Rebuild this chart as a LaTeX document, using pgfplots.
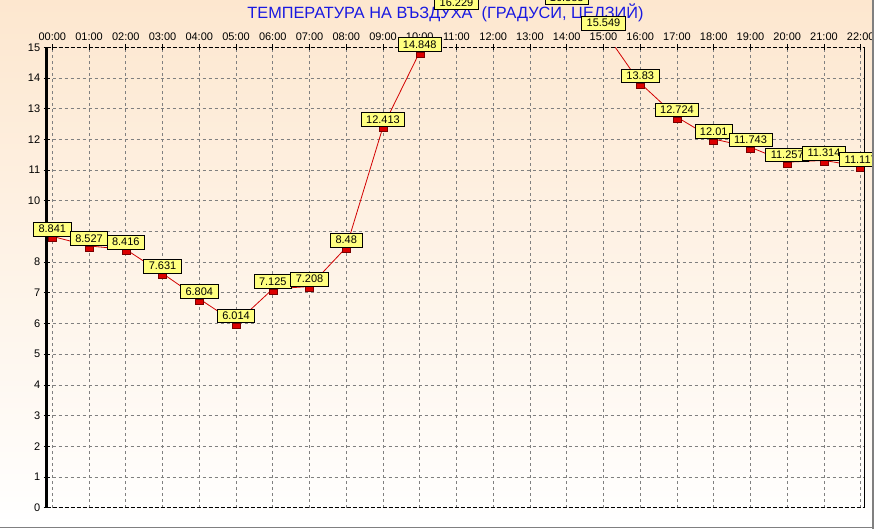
\documentclass[border=0pt]{standalone}
\usepackage{pgfplots}
\usepackage{pgfplotstable}
\pgfplotsset{compat=1.18}
\usepackage{fontspec}
\setmainfont{Liberation Sans}

\definecolor{bgtop}{RGB}{253,231,207}
\definecolor{ttlblue}{RGB}{25,25,225}
\definecolor{lblyellow}{RGB}{255,255,128}
\definecolor{linered}{RGB}{210,0,0}
\definecolor{mkred}{RGB}{220,0,0}
\definecolor{mkdark}{RGB}{120,0,0}
\definecolor{gridgray}{RGB}{128,128,128}

% small red tab hanging below the point
\pgfdeclareplotmark{tab}{%
  \pgfpathrectangle{\pgfpoint{-4pt}{-5pt}}{\pgfpoint{8pt}{5pt}}%
  \pgfusepathqfillstroke}

% hour, temperature, label
\pgfplotstableread{
h  t       lbl
0  8.841   8.841
1  8.527   8.527
2  8.416   8.416
3  7.631   7.631
4  6.804   6.804
5  6.014   6.014
6  7.125   7.125
7  7.208   7.208
8  8.48    8.48
9  12.413  12.413
10 14.848  14.848
11 16.229  16.229
12 16.8    16.8
13 16.7    16.7
14 16.383  16.383
15 15.549  15.549
16 13.83   13.83
17 12.724  12.724
18 12.01   12.01
19 11.743  11.743
20 11.257  11.257
21 11.314  11.314
22 11.117  11.117
}\temps

\pgfplotsset{
  chartbox/.style={
    at={(46.7pt,21.3pt)}, anchor=south west,
    scale only axis, width=817.8pt, height=460.4pt,
    xmin=-0.152, xmax=22.103, ymin=0, ymax=15,
  }
}

\begin{document}
\begin{tikzpicture}
\useasboundingbox (0,0) rectangle (874pt,529pt);
\clip (0,0) rectangle (874pt,529pt);
\shade[top color=bgtop, bottom color=white] (0,0) rectangle (874pt,529pt);

\begin{axis}[chartbox, name=ax,
    xtick={0,...,22},
    xticklabels={00:00,01:00,02:00,03:00,04:00,05:00,06:00,07:00,08:00,09:00,10:00,11:00,
                 12:00,13:00,14:00,15:00,16:00,17:00,18:00,19:00,20:00,21:00,22:00},
    ytick={0,...,15},
    xtick pos=right, xticklabel pos=right, ytick pos=left,
    tick align=center, major tick length=6pt,
    tick style={black, line width=0.8pt},
    grid=major,
    major grid style={gridgray, line width=0.7pt, dash pattern=on 3pt off 3pt},
    axis line style={draw=none},
    ticklabel style={font=\fontsize{11}{13}\selectfont},
    /pgf/number format/assume math mode=true,
    clip marker paths=true,
]
\addplot[linered, line width=0.8pt, mark=tab,
    mark options={fill=mkred, draw=mkdark, line width=0.5pt, solid}]
    table[x=h, y=t] {\temps};
\end{axis}

\draw[black, line width=2.6pt] (ax.south west) -- (ax.north west);
\draw[black, line width=1.2pt] (ax.south east) -- (ax.north east);
\draw[black, line width=1pt, dash pattern=on 4pt off 2pt] (ax.north west) -- (ax.north east);
\draw[black, line width=1pt, dash pattern=on 4pt off 2pt] (ax.south west) -- (ax.south east);

\node[anchor=base, text=ttlblue, font=\fontsize{16.3}{18}\selectfont]
  at (445.5pt,510pt) {ТЕМПЕРАТУРА НА ВЪЗДУХА\ \ (ГРАДУСИ, ЦЕЛЗИЙ)};

\begin{axis}[chartbox, hide axis, clip=false]
\addplot[draw=none, nodes near coords, point meta=explicit symbolic,
    every node near coord/.append style={anchor=south, fill=lblyellow, draw=black,
      line width=0.8pt, inner xsep=5pt, inner ysep=3pt, text=black,
      font=\fontsize{11}{13}\selectfont}]
    table[x=h, y=t, meta=lbl] {\temps};
\end{axis}

\draw[gridgray, line width=1.5pt] (0,1.5pt) -- (874pt,1.5pt);
\draw[gridgray, line width=1.5pt] (873pt,0) -- (873pt,529pt);
\end{tikzpicture}
\end{document}
